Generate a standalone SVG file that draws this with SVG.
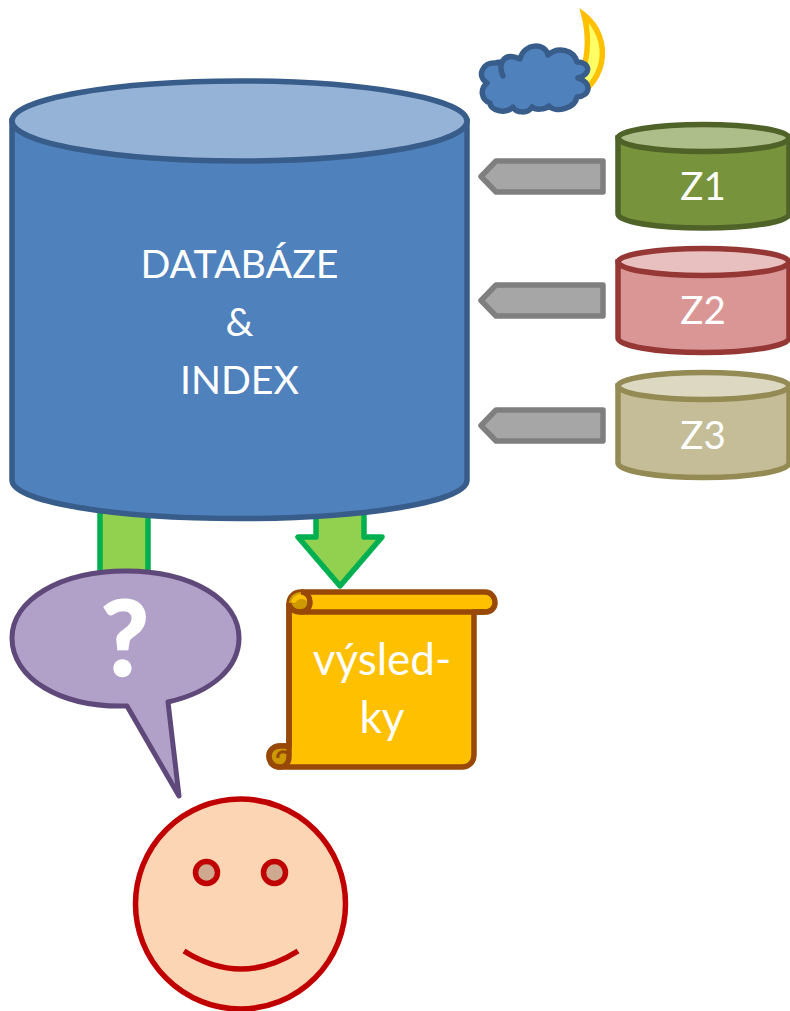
<svg xmlns="http://www.w3.org/2000/svg" width="790" height="1011" viewBox="0 0 790 1011">
<style>
text{font-family:"Lato","Open Sans","Liberation Sans",sans-serif;fill:#fff;text-anchor:middle}
.lbl{font-size:39.3px}
.res{font-size:44px}
.z{font-size:38.5px}
.gray{fill:#a6a6a6;stroke:#7f7f7f;stroke-width:5.500;stroke-linejoin:round}
.green{fill:#92d050;stroke:#00b050;stroke-width:5.500;stroke-linejoin:round}
.sc{stroke:#984807;stroke-width:5.500;stroke-linejoin:round}
</style>
<rect width="790" height="1011" fill="#fff"/>
<g id="connectors">
<path class="gray" d="M603 161V192H496L481 176.500L496 161Z"/>
<path class="gray" d="M603 285V316H496L481 300.500L496 285Z"/>
<path class="gray" d="M603 410V441H496L481 425.500L496 410Z"/>
<path class="green" d="M100 505H148V590H100Z"/>
<path class="green" d="M316 505H364V537H382L340 586L298 537H316Z"/>
</g>
<g id="database">
<path d="M12 121V480C12 502 114 518.500 239.500 518.500S467 502 467 480V121Z" fill="#4f81bd" stroke="#385d8a" stroke-width="5.500"/>
<ellipse cx="239.500" cy="121" rx="227.500" ry="40" fill="#95b3d7" stroke="#385d8a" stroke-width="5.500"/>
<text class="lbl" x="239.500" y="278">DATABÁZE</text>
<text class="lbl" x="239.500" y="336">&amp;</text>
<text class="lbl" x="239.500" y="394">INDEX</text>
</g>
<g id="moon">
<path d="M584 15C612 37 612 88 556 107C580 95 594 55 584 15Z" fill="#ffff66" stroke="#ffc000" stroke-width="5.500" stroke-linejoin="miter" stroke-miterlimit="10"/>
</g>
<g id="cloud">
<path d="M503 76C497 62 505 52 520 59C524 43 545 42 548 55C558 46 574 50 577 62C590 62 592 74 578 78C592 82 591 96 577 97C575 109 555 113 549 106C545 110 535 110 532 107C528 114 516 113 513 107C505 115 490 110 490 103C482 100 479 90 487 83C476 76 483 62 495 63C498 62 500 62 502 62" fill="#4f81bd" stroke="#385d8a" stroke-width="5.500" stroke-linejoin="round" stroke-linecap="round"/>
</g>
<g id="z1">
<path d="M618 138V214C618 222 656 228 703.500 228S789 222 789 214V138Z" fill="#77933c" stroke="#4f6228" stroke-width="5.500"/>
<ellipse cx="703.500" cy="138" rx="85.500" ry="13.500" fill="#adbe8a" stroke="#4f6228" stroke-width="5.500"/>
<text class="z" x="703" y="200">Z1</text>
</g>
<g id="z2">
<path d="M618 262V338C618 346 656 352.500 703.500 352.500S789 346 789 338V262Z" fill="#d99694" stroke="#953735" stroke-width="5.500"/>
<ellipse cx="703.500" cy="262" rx="85.500" ry="13.500" fill="#e8c0bf" stroke="#953735" stroke-width="5.500"/>
<text class="z" x="703" y="324">Z2</text>
</g>
<g id="z3">
<path d="M618 386V463C618 471 656 477.500 703.500 477.500S789 471 789 463V386Z" fill="#c4bd97" stroke="#948a54" stroke-width="5.500"/>
<ellipse cx="703.500" cy="386" rx="85.500" ry="13.500" fill="#dcd8c2" stroke="#948a54" stroke-width="5.500"/>
<text class="z" x="703" y="449">Z3</text>
</g>
<g id="bubble">
<path d="M127 706C60 708 12 678 12 638C12 600 60 571 126 571C192 571 239 600 239 638C239 668 212 692 168 702L179 796Z" fill="#b1a0c7" stroke="#5f497a" stroke-width="5" stroke-linejoin="round"/>
<text x="125" y="675" font-size="103" font-weight="700" stroke="#fff" stroke-width="2.500">?</text>
</g>
<g id="scroll">
<path class="sc" d="M289 604C289 597 294 592 301 592H485C491 592 495 597 495 603C495 608 491 612 485 612H474V755C474 762 469 767 462 767H280C273 767 269 762 269 756C269 750 274 746 280 746H289Z" fill="#ffc000"/>
<path d="M301 592C307 592 310 597 310 602C310 608 306 612 300 612C294 612 289 608 289 603C289 597 294 592 301 592Z" fill="#cc9900" stroke="none"/>
<path d="M291 602C293 596 297 594 301 594C306 594 308 598 308 602C304 598 298 598 295 603Z" fill="#ffc000"/>
<path class="sc" d="M301 592C307 592 310 597 310 602C310 608 306 612 300 612C294 612 289 608 289 603" fill="none"/>
<path class="sc" d="M300 612H485" fill="none"/>
<path class="sc" d="M289 604V746" fill="none"/>
<path d="M280 746C274 746 269 750 269 756C269 762 273 767 280 767C285 767 289 763 289 757V746Z" fill="#cc9900" class="sc"/>
<path d="M287 753C282 750 277 753 278 758" fill="none" stroke="#984807" stroke-width="3"/>
<text class="res" x="382" y="675">výsled-</text>
<text class="res" x="382" y="733">ky</text>
</g>
<g id="smiley">
<circle cx="240.500" cy="904" r="105" fill="#fcd5b5" stroke="#c00000" stroke-width="5.500"/>
<circle cx="206.500" cy="872.500" r="11" fill="#cfa98f" stroke="#c00000" stroke-width="5.500"/>
<circle cx="274.500" cy="872.500" r="11" fill="#cfa98f" stroke="#c00000" stroke-width="5.500"/>
<path d="M184 951Q241 987 298 951" fill="none" stroke="#c00000" stroke-width="5.500"/>
</g>
</svg>
